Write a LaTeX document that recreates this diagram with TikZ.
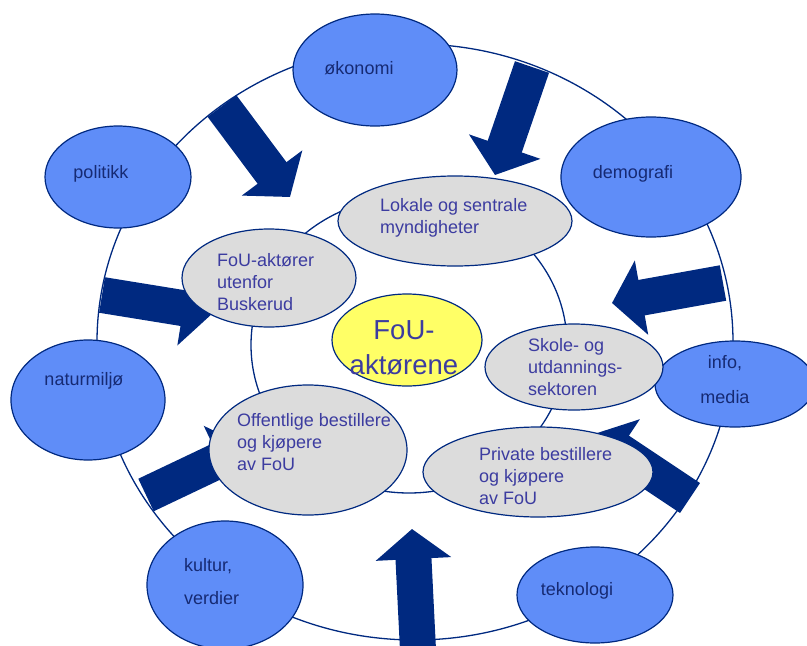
\documentclass[tikz,border=0pt]{standalone}
\usepackage{fontspec}
\setmainfont{Liberation Sans}
\usetikzlibrary{shapes.geometric,arrows.meta}
\definecolor{navy}{RGB}{0,41,128}
\definecolor{bluefill}{RGB}{95,141,248}
\definecolor{grayfill}{RGB}{220,220,220}
\definecolor{yellowfill}{RGB}{255,255,102}
\definecolor{bluetext}{RGB}{22,42,115}
\definecolor{graytext}{RGB}{60,60,160}
\begin{document}
\begin{tikzpicture}[x=1pt,y=-1pt,
  ring/.style={draw=navy,line width=1.3pt},
  outerell/.style={ellipse,draw=navy,line width=1.2pt,fill=bluefill,inner sep=0pt},
  innerell/.style={ellipse,draw=navy,line width=1.2pt,fill=grayfill,inner sep=0pt},
  blockarrow/.style={navy,line width=36pt,-{Triangle[width=74pt,length=30pt]}},
  outertext/.style={text=bluetext,font=\fontsize{18}{22}\selectfont,inner sep=0pt,align=center},
  innertext/.style={text=graytext,font=\fontsize{18}{22}\selectfont,inner sep=0pt,align=left,anchor=west}]
\useasboundingbox (0,0) rectangle (807,646);

\draw[ring] (415,342) ellipse [x radius=318, y radius=298];
\draw[ring] (409,345) ellipse [x radius=158, y radius=148];

% arrows
\coordinate (oktail) at (222,106);
\coordinate (oktip) at (290,197);
\coordinate (detail) at (532,67);
\coordinate (detip) at (495,175);
\coordinate (intail) at (723,283);
\coordinate (intip) at (612,303);
\coordinate (potail) at (102,295);
\coordinate (potip) at (213,313);
\coordinate (natail) at (146,495);
\coordinate (natip) at (247,447);
\coordinate (kutail) at (418,650);
\coordinate (kutip) at (412,529);
\coordinate (tetail) at (690,498);
\coordinate (tetip) at (594,434);
\draw[blockarrow] (oktail) -- (oktip);
\draw[blockarrow] (detail) -- (detip);
\draw[blockarrow] (intail) -- (intip);
\draw[blockarrow] (potail) -- (potip);
\draw[blockarrow] (natail) -- (natip);
\draw[blockarrow] (kutail) -- (kutip);
\draw[blockarrow] (tetail) -- (tetip);

% outer factors
\node[outerell,minimum width=164pt,minimum height=112pt] (oko) at (375,70) {};
\node[outerell,minimum width=146pt,minimum height=102pt] (pol) at (118,177) {};
\node[outerell,minimum width=180pt,minimum height=120pt] (demo) at (651,177) {};
\node[outerell,minimum width=154pt,minimum height=120pt] (natur) at (88,400) {};
\node[outerell,minimum width=156pt,minimum height=128pt] (kultur) at (225,585) {};
\node[outerell,minimum width=160pt,minimum height=86pt] (info) at (735,384) {};
\node[outerell,minimum width=156pt,minimum height=96pt] (tekn) at (595,595) {};

\node[outertext] (okotxt) at (359,68) {økonomi};
\node[outertext] (poltxt) at (101,174) {politikk};
\node[outertext] (demotxt) at (633,174) {demografi};
\node[outertext] (naturtxt) at (84,381) {naturmiljø};
\node[outertext,align=left,anchor=west,font=\fontsize{18}{33}\selectfont] (kulturtxt) at (184,582) {kultur,\\verdier};
\node[outertext,font=\fontsize{18}{35}\selectfont] (infotxt) at (725,380) {info,\\media};
\node[outertext] (tekntxt) at (577,591) {teknologi};

% actors
\node[innerell,minimum width=234pt,minimum height=90pt] (lok) at (455,221) {};
\node[innerell,minimum width=174pt,minimum height=98pt] (fouut) at (269,278) {};
\node[innerell,minimum width=178pt,minimum height=86pt] (skole) at (574,367) {};
\node[innerell,minimum width=230pt,minimum height=90pt] (priv) at (538,472) {};
\node[innerell,minimum width=198pt,minimum height=130pt] (off) at (308,450) {};

\node[innertext] (loktxt) at (380,218) {Lokale og sentrale\\myndigheter};
\node[innertext] (fouuttxt) at (217,282) {FoU-aktører\\utenfor\\Buskerud};
\node[innertext] (skoletxt) at (528,367) {Skole- og\\utdannings-\\sektoren};
\node[innertext] (privtxt) at (479,476) {Private bestillere\\og kjøpere\\av FoU};
\node[innertext] (offtxt) at (237,442) {Offentlige bestillere\\og kjøpere\\av FoU};

\node[ellipse,draw=navy,line width=1.2pt,fill=yellowfill,inner sep=0pt,minimum width=150pt,minimum height=92pt] (fou) at (407,340) {};
\node[text=graytext,font=\fontsize{27.5}{35}\selectfont,align=center,inner sep=0pt] (foutxt) at (404,348) {FoU-\\aktørene};

\end{tikzpicture}
\end{document}
